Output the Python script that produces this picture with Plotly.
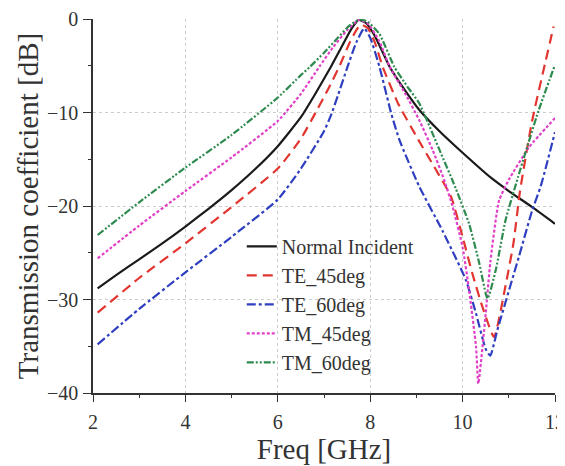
import plotly.graph_objects as go

# Normal incidence
f_ni = [2.1, 2.5, 3, 3.5, 4, 4.5, 5, 5.5, 6, 6.5, 6.8, 7.15, 7.4, 7.6, 7.75, 7.9, 8.1, 8.42, 8.75, 9.06, 9.5, 10, 10.62, 11, 11.5, 12]
db_ni = [-28.8, -27.4, -25.7, -24.0, -22.2, -20.3, -18.3, -16.1, -13.6, -10.5, -8.1, -5.1, -2.8, -1.0, -0.1, -0.4, -1.8, -5.1, -7.6, -9.7, -12.0, -14.3, -17.0, -18.4, -20.1, -21.9]

# TE 45 deg
f_te45 = [2.1, 3, 4, 5, 6, 6.5, 6.83, 7.1, 7.33, 7.55, 7.7, 7.8, 7.95, 8.1, 8.27, 8.6, 9.04, 9.42, 9.75, 10, 10.21, 10.43, 10.68, 10.93, 11.1, 11.24, 11.5, 11.75, 11.97]
db_te45 = [-31.4, -27.7, -24.0, -20.1, -16.0, -12.8, -9.9, -7.4, -5.1, -2.6, -1.2, -0.6, -1.0, -2.5, -5.1, -9.0, -12.9, -16.1, -19.0, -23.3, -27.2, -30.8, -34.0, -28.5, -24.0, -18.5, -11.0, -5.5, -0.8]

# TE 60 deg
f_te60 = [2.1, 3, 4, 5, 6, 6.5, 7, 7.15, 7.3, 7.51, 7.7, 7.87, 8.0, 8.2, 8.45, 8.63, 9.06, 9.56, 10.07, 10.29, 10.5, 10.6, 10.75, 11.22, 11.51, 11.69, 12]
db_te60 = [-34.8, -31.0, -27.1, -23.3, -19.3, -16.0, -12.0, -10.3, -8.2, -5.1, -2.5, -1.0, -2.0, -5.1, -10.0, -12.9, -17.9, -22.6, -27.9, -31.5, -35.3, -36.0, -33.3, -25.4, -20.4, -17.9, -12.1]

# TM 45 deg
f_tm45 = [2.1, 3, 4, 5, 6, 6.5, 6.9, 7.2, 7.5, 7.75, 7.95, 8.2, 8.42, 8.75, 9.06, 9.35, 9.6, 9.78, 10, 10.14, 10.29, 10.34, 10.5, 10.6, 10.79, 11.0, 11.44, 12]
db_tm45 = [-25.6, -22.1, -18.4, -14.8, -10.9, -8.0, -5.1, -3.0, -1.2, -0.1, -0.5, -2.4, -5.1, -7.9, -10.8, -14.0, -17.2, -20.0, -24.4, -29.0, -35.0, -39.0, -31.5, -26.0, -19.4, -17.2, -13.7, -10.6]

# TM 60 deg
f_tm60 = [2.1, 3, 4, 5, 6, 6.5, 6.7, 7.0, 7.3, 7.55, 7.77, 7.95, 8.2, 8.52, 8.8, 9.06, 9.5, 9.85, 10.14, 10.36, 10.54, 10.72, 10.93, 11.2, 11.65, 12]
db_tm60 = [-23.1, -19.6, -15.9, -12.4, -8.4, -6.0, -5.1, -3.6, -2.0, -0.7, -0.05, -0.3, -1.6, -5.1, -7.2, -9.0, -14.0, -18.1, -21.9, -26.1, -29.9, -26.8, -21.5, -16.9, -9.7, -4.9]

names = ["Normal Incident", "TE_45deg", "TE_60deg", "TM_45deg", "TM_60deg"]
xs = [f_ni, f_te45, f_te60, f_tm45, f_tm60]
ys = [db_ni, db_te45, db_te60, db_tm45, db_tm60]
colors = ["#1a1a1a", "#e2352f", "#2f3fc0", "#e040c8", "#2e8b4f"]
dashes = ["solid", "10px,6px", "9px,3px,3px,3px", "3px,2px", "7px,2px,2px,2px,2px,2px"]

x_ticks = [2, 4, 6, 8, 10, 12]
y_ticks = [-40, -30, -20, -10, 0]

fig = go.Figure()
for n, x, y, c, d in zip(names, xs, ys, colors, dashes):
    fig.add_trace(go.Scatter(x=x, y=y, name=n, mode="lines",
                             line=dict(color=c, width=2.2, dash=d, shape="spline", smoothing=0.5)))

font = "Liberation Serif, Times New Roman, serif"
# page body has an 8px margin, so the figure is 8px smaller than the window
fig.update_layout(
    width=557, height=458,
    margin=dict(l=85, r=10, t=11, b=73),
    paper_bgcolor="white", plot_bgcolor="white",
    font=dict(family=font, color="#333"),
    legend=dict(x=0.322, y=0.444, xanchor="left", yanchor="top",
                font=dict(family=font, size=20, color="#333"),
                bgcolor="rgba(0,0,0,0)", tracegroupgap=0),
)
fig.update_xaxes(range=[2, 12], tickvals=x_ticks, ticks="outside", ticklen=7,
                 tickwidth=1.2, tickcolor="#333", automargin=False,
                 minor=dict(tickvals=[3, 5, 7, 9, 11], ticks="outside", ticklen=3, tickcolor="#333", showgrid=False),
                 showline=True, linecolor="#333", linewidth=1.5,
                 showgrid=True, gridcolor="#cccccc", griddash="dot", gridwidth=1,
                 zeroline=False, tickfont=dict(size=20, family=font, color="#333"),
                 ticklabelstandoff=3,
                 title=dict(text="Freq [GHz]", font=dict(size=29, family=font, color="#333"), standoff=4))
fig.update_yaxes(range=[-40, 0], tickvals=y_ticks, ticks="outside", ticklen=8,
                 tickwidth=1.2, tickcolor="#333", automargin=False,
                 minor=dict(tickvals=[-35, -25, -15, -5], ticks="outside", ticklen=3, tickcolor="#333", showgrid=False),
                 showline=True, linecolor="#333", linewidth=1.5,
                 showgrid=True, gridcolor="#cccccc", griddash="dot", gridwidth=1,
                 zeroline=False, tickfont=dict(size=20, family=font, color="#333"),
                 ticklabelstandoff=1,
                 title=dict(text="Transmission coefficient [dB]", font=dict(size=29, family=font, color="#333"), standoff=0))

fig.write_html("out.html")
